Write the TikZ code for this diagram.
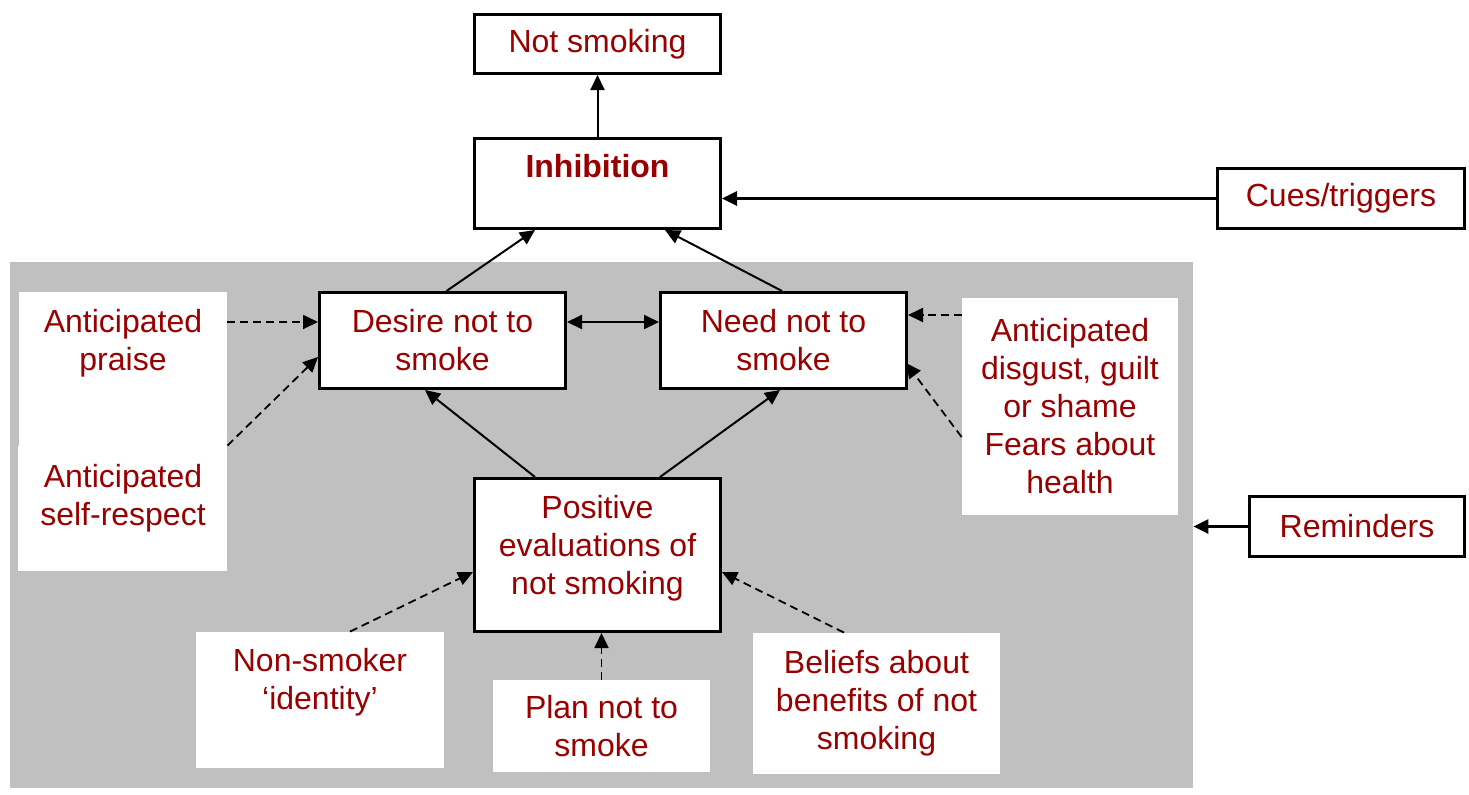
\documentclass[tikz,border=0pt]{standalone}
\usepackage{fontspec}
\setmainfont{Liberation Sans}
\usetikzlibrary{arrows.meta}
\definecolor{txtred}{HTML}{990000}
\definecolor{panelgray}{HTML}{C0C0C0}

\begin{document}
\begin{tikzpicture}[x=0.5pt,y=-0.5pt,
  >={Triangle[length=7.5pt,width=7pt]},
  every node/.style={font=\fontsize{16}{19}\selectfont, text=txtred, align=center, inner sep=0pt},
  mainbox/.style={draw=black, line width=1.5pt, fill=white},
  notebox/.style={fill=white},
  link/.style={line width=1pt, ->},
  cue/.style={line width=1.5pt, ->},
  influence/.style={line width=0.9pt, dash pattern=on 4pt off 2.5pt, ->},
]
\useasboundingbox (0,0) rectangle (1469,794);

% grey panel holding the motivational components
\node[fill=panelgray, minimum width=591.5pt, minimum height=263pt] (panel) at (601.5,525) {};

% outcome and inhibition
\node[mainbox, minimum width=123pt, minimum height=29.5pt] (notsm) at (597.5,44) {Not smoking};
\node[mainbox, minimum width=123pt, minimum height=45pt] (inhib) at (597.5,183.5) {};
\node (inhibtext) at (597.5,166) {\bfseries Inhibition};

% external prompts
\node[mainbox, minimum width=123.5pt, minimum height=30pt] (cues) at (1341,198.5) {Cues/triggers};
\node[mainbox, minimum width=107.5pt, minimum height=30pt] (remind) at (1357,526.5) {Reminders};

% motivation boxes
\node[mainbox, minimum width=123pt, minimum height=48pt] (desire) at (442.5,340.5) {Desire not to\\smoke};
\node[mainbox, minimum width=123pt, minimum height=48pt] (need) at (783.5,340.5) {Need not to\\smoke};
\node[mainbox, minimum width=123pt, minimum height=76.5pt] (posev) at (597.5,555) {};
\node (posevtext) at (597.5,548) {Positive\\evaluations of\\not smoking};

% sources of motivation
\node[notebox, minimum width=104pt, minimum height=77pt] (praise) at (123,369) {};
\node (praisetext) at (123,343) {Anticipated\\praise};
\node[notebox, minimum width=104.5pt, minimum height=62.5pt] (selfresp) at (122.5,508.5) {};
\node (selfresptext) at (123,498) {Anticipated\\self-respect};
\node[notebox, minimum width=108pt, minimum height=108.5pt] (disgust) at (1070,406) {Anticipated\\disgust, guilt\\or shame\\Fears about\\health};
\node[notebox, minimum width=124pt, minimum height=68pt] (nonsm) at (320,700) {};
\node (nonsmtext) at (320,682) {Non-smoker\\‘identity’};
\node[notebox, minimum width=108.5pt, minimum height=46pt] (plan) at (601.5,726) {Plan not to\\smoke};
\node[notebox, minimum width=123.5pt, minimum height=70.5pt] (beliefs) at (876.5,703.5) {Beliefs about\\benefits of not\\smoking};

% solid links
\draw[link] (inhib.north) -- (notsm.south);
\draw[cue] (cues.west) -- (cues.west -| inhib.east);
\draw[cue] (remind.west) -- (remind.west -| panel.east);
\draw[link] ([xshift=2pt]desire.north) -- ([xshift=-31.25pt]inhib.south);
\draw[link] ([xshift=-0.75pt]need.north) -- ([xshift=33.75pt]inhib.south);
\draw[link, <->] ([yshift=9.25pt]desire.east) -- ([yshift=9.25pt]desire.east -| need.west);
\draw[link] ([xshift=-31.25pt]posev.north) -- ([xshift=-8.75pt]desire.south);
\draw[link] ([xshift=31.25pt]posev.north) -- ([xshift=-1.75pt]need.south);

% dashed influences
\draw[influence] ([yshift=23.5pt]praise.east) -- ([yshift=23.5pt]praise.east -| desire.west);
\draw[influence] (selfresp.north east) -- ([yshift=-8.25pt]desire.west);
\draw[influence] ([yshift=45.5pt]disgust.west) -- ([yshift=45.5pt]disgust.west -| need.east);
\draw[influence] ([yshift=-15.5pt]disgust.west) -- ([xshift=-1pt,yshift=-11.25pt]need.east);
\draw[influence] ([xshift=15pt]nonsm.north) -- ([yshift=-8.5pt]posev.west);
\draw[influence] (plan.north) -- (plan.north |- posev.south);
\draw[influence] ([xshift=-16.25pt]beliefs.north) -- ([yshift=-8.5pt]posev.east);
\end{tikzpicture}
\end{document}
